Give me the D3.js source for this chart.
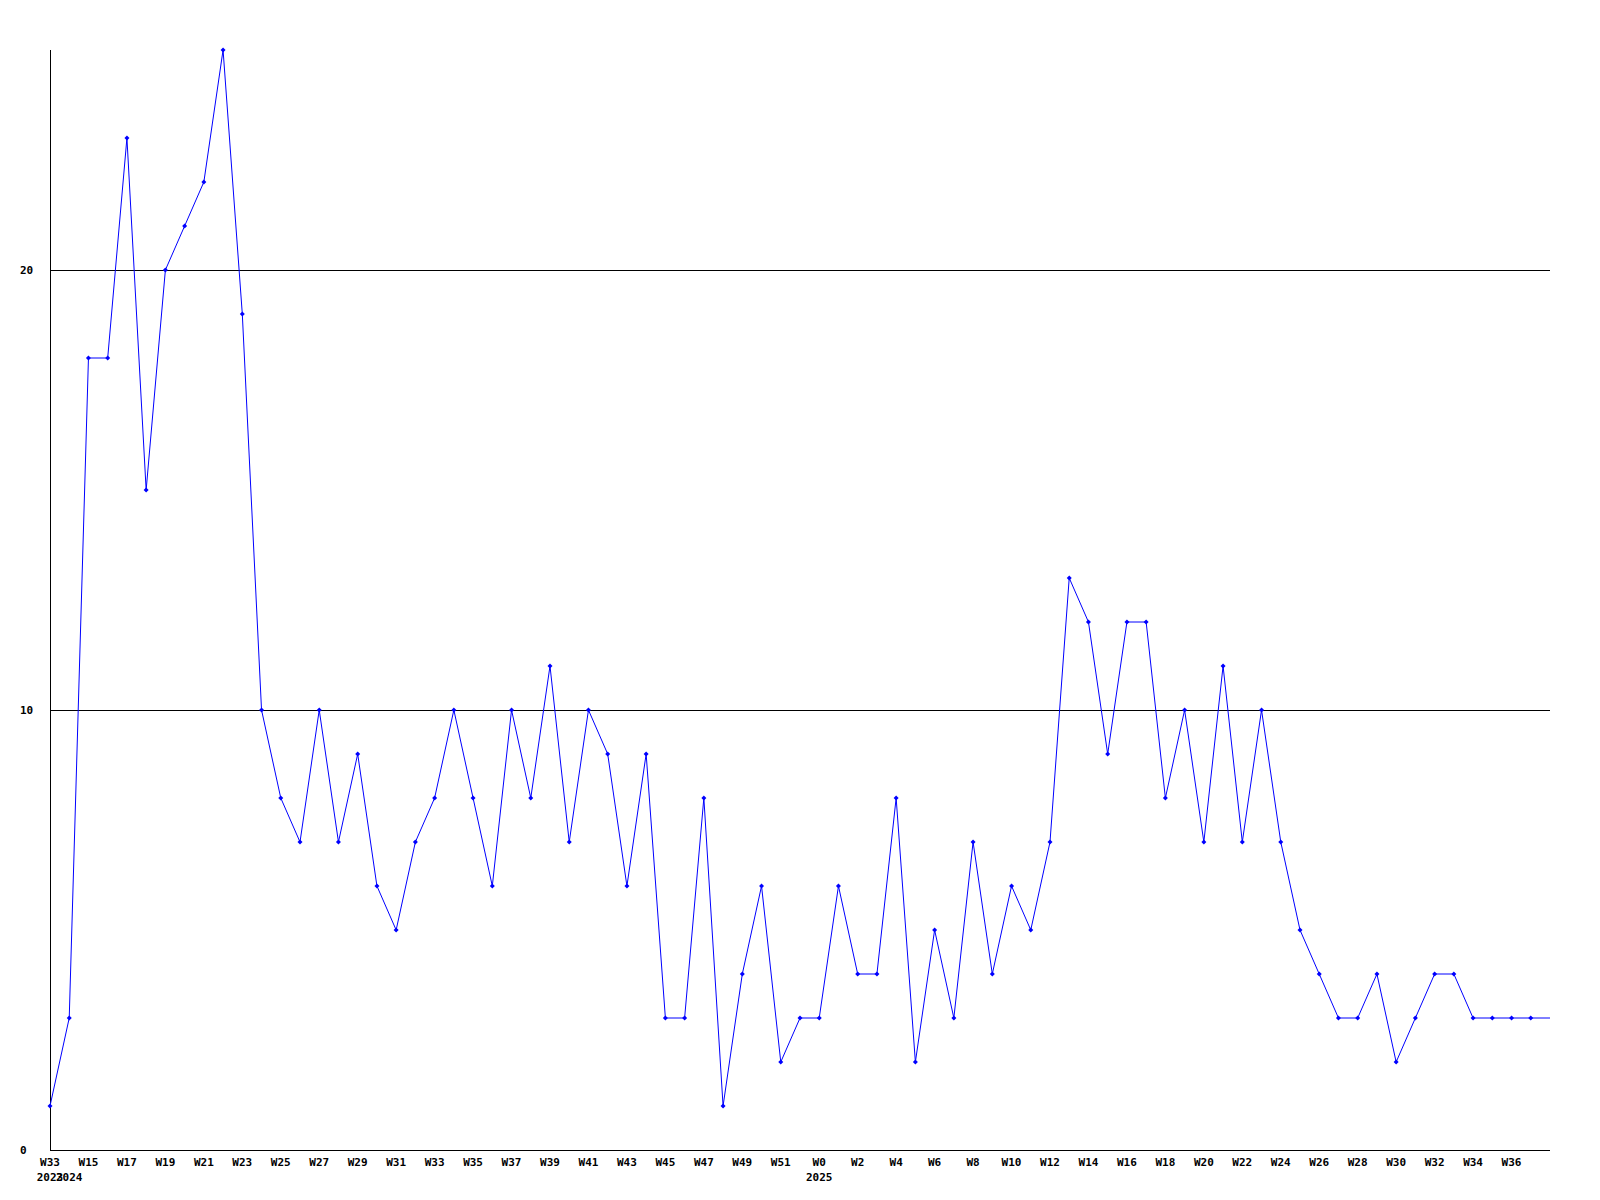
<!DOCTYPE html>
<html><head><meta charset="utf-8">
<script src="https://cdn.jsdelivr.net/npm/d3@7"></script>
<style>body{margin:0;background:#fff}svg{display:block}</style>
</head><body>
<script>
const weekLabels = ["W33","W14","W15","W16","W17","W18","W19","W20","W21","W22","W23","W24","W25","W26","W27","W28","W29","W30","W31","W32","W33","W34","W35","W36","W37","W38","W39","W40","W41","W42","W43","W44","W45","W46","W47","W48","W49","W50","W51","W52",
"W0","W1","W2","W3","W4","W5","W6","W7","W8","W9","W10","W11","W12","W13","W14","W15","W16","W17","W18","W19","W20","W21","W22","W23","W24","W25","W26","W27","W28","W29","W30","W31","W32","W33","W34","W35","W36","W37"];
const values = [1,3,18,18,23,15,20,21,22,25,19,10,8,7,10,7,9,6,5,7,8,10,8,6,10,8,11,7,10,9,6,9,3,3,8,1,4,6,2,3,
3,6,4,4,8,2,5,3,7,4,6,5,7,13,12,9,12,12,8,10,7,11,7,10,7,5,4,3,3,4,2,3,4,4,3,3,3,3];
const yearLabels = [{idx:0,label:"2023"},{idx:1,label:"2024"},{idx:40,label:"2025"}];
const yTicks = [0,10,20];

const W=1600,H=1200;
const mLeft=50,mRight=1550,mTop=50,mBottom=1150;
const svg=d3.select("body").append("svg").attr("width",W).attr("height",H);
const x=d3.scaleLinear().domain([0,values.length]).range([mLeft,mRight]);
const y=d3.scaleLinear().domain([0,25]).range([mBottom,mTop]);
const font="'DejaVu Sans Mono', monospace";

svg.selectAll("line.grid").data(yTicks.filter(d=>d>0)).join("line")
  .attr("x1",mLeft).attr("x2",mRight).attr("y1",d=>y(d)+0.5).attr("y2",d=>y(d)+0.5)
  .attr("stroke","#000").attr("stroke-width",1);
svg.selectAll("text.yl").data(yTicks).join("text")
  .attr("x",20).attr("y",d=>y(d)).attr("dy","0.35em")
  .attr("font-family",font).attr("font-weight","bold").attr("font-size",11)
  .text(d=>d);
svg.append("line").attr("x1",mLeft+0.5).attr("x2",mLeft+0.5).attr("y1",mTop).attr("y2",mBottom+0.5).attr("stroke","#000");
svg.append("line").attr("x1",mLeft).attr("x2",mRight).attr("y1",mBottom+0.5).attr("y2",mBottom+0.5).attr("stroke","#000");

svg.selectAll("text.xl").data(weekLabels.map((l,i)=>({l,i})).filter(d=>d.i%2===0)).join("text")
  .attr("x",d=>x(d.i)).attr("y",mBottom+16).attr("text-anchor","middle")
  .attr("font-family",font).attr("font-weight","bold").attr("font-size",11)
  .text(d=>d.l);
svg.selectAll("text.yr").data(yearLabels).join("text")
  .attr("x",d=>x(d.idx)).attr("y",mBottom+31).attr("text-anchor","middle")
  .attr("font-family",font).attr("font-weight","bold").attr("font-size",11)
  .text(d=>d.label);

const pts=values.map((v,i)=>[x(i),y(v)]);
pts.push([x.range()[1],y(values[values.length-1])]);
svg.append("path").attr("d",d3.line()(pts)).attr("fill","none").attr("stroke","#0000ff").attr("stroke-width",1);
svg.selectAll("path.m").data(values).join("path")
  .attr("transform",(d,i)=>`translate(${x(i)},${y(d)})`)
  .attr("d","M0,-2.5L2.5,0L0,2.5L-2.5,0Z").attr("fill","#0000ff");
</script>
</body></html>
